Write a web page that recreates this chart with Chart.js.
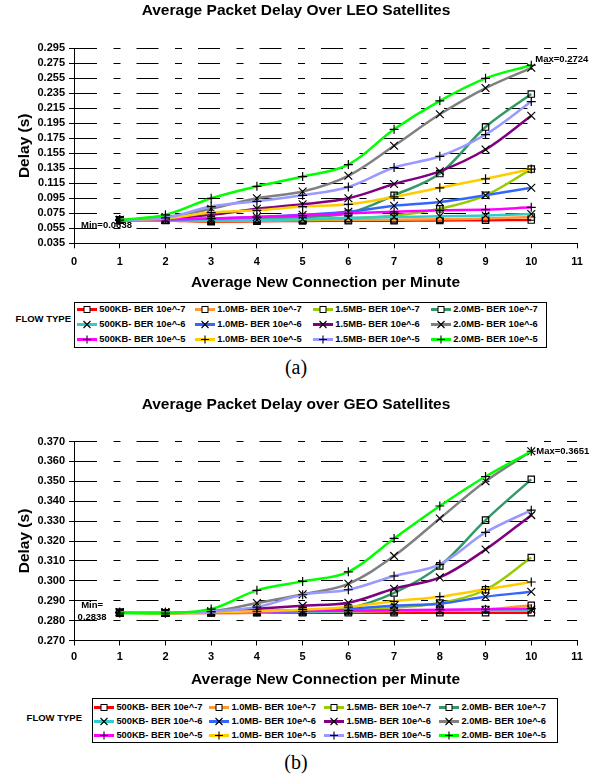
<!DOCTYPE html>
<html>
<head>
<meta charset="utf-8">
<script src="https://cdn.jsdelivr.net/npm/chart.js@4.4.1/dist/chart.umd.min.js"></script>
<style>
  body { margin: 0; background: #fff; }
  #page { position: relative; width: 604px; height: 779px; overflow: hidden; background: #fff;
          font-family: 'Liberation Sans', Arial, sans-serif; color: #000; }
  canvas { position: absolute; left: 0; }
  .legend { position: absolute; border: 1px solid #000; box-sizing: border-box; }
  .legend .item { position: absolute; display: flex; align-items: center; height: 12px;
                  font-weight: bold; font-size: 9.3px; line-height: 12px; white-space: nowrap; }
  .legend svg { margin-right: 2px; }
  .flow { position: absolute; left: 0; text-align: right; font-weight: bold; font-size: 9.5px;
          line-height: 12px; white-space: nowrap; }
  .caption { position: absolute; left: 246px; width: 100px; text-align: center; line-height: 23px;
             font-family: 'Liberation Serif', 'Times New Roman', serif; font-size: 20px; }
</style>
</head>
<body>
<div id="page">
  <canvas id="leoChart" width="604" height="300" style="top:0"></canvas>
  <div class="flow" style="top:313px; width:71px">FLOW TYPE</div>
  <div class="legend" id="leoLegend"></div>
  <div class="caption" style="top:356px">(a)</div>

  <canvas id="geoChart" width="604" height="300" style="top:394px"></canvas>
  <div class="flow" style="top:712px; width:82px">FLOW TYPE</div>
  <div class="legend" id="geoLegend"></div>
  <div class="caption" style="top:751px">(b)</div>
</div>
<script>
// x values and tick labels
const connections = [1, 2, 3, 4, 5, 6, 7, 8, 9, 10];
const xTicks = [0, 1, 2, 3, 4, 5, 6, 7, 8, 9, 10, 11];
const leoYTicks = [0.035, 0.055, 0.075, 0.095, 0.115, 0.135, 0.155, 0.175, 0.195, 0.215, 0.235, 0.255, 0.275, 0.295];
const geoYTicks = [0.270, 0.280, 0.290, 0.300, 0.310, 0.320, 0.330, 0.340, 0.350, 0.360, 0.370];

// flow types (legend order: rows = BER, columns = size)
const flowNames = [
  '500KB- BER 10e^-7', '1.0MB- BER 10e^-7', '1.5MB- BER 10e^-7', '2.0MB- BER 10e^-7',
  '500KB- BER 10e^-6', '1.0MB- BER 10e^-6', '1.5MB- BER 10e^-6', '2.0MB- BER 10e^-6',
  '500KB- BER 10e^-5', '1.0MB- BER 10e^-5', '1.5MB- BER 10e^-5', '2.0MB- BER 10e^-5'
];
const flowColors = [
  '#FF0000', '#FF9933', '#99CC00', '#339966',
  '#33CCCC', '#3366FF', '#800080', '#808080',
  '#FF00FF', '#FFCC00', '#9999FF', '#00FF00'
];
const flowMarkers = [
  'rect', 'rect', 'rect', 'rect',
  'crossRot', 'crossRot', 'crossRot', 'crossRot',
  'cross', 'cross', 'cross', 'cross'
];

// LEO delays (s)
const leo500K7 = [0.0660, 0.0655, 0.0638, 0.0645, 0.0648, 0.0650, 0.0652, 0.0655, 0.0658, 0.0660];
const leo1M7   = [0.0660, 0.0658, 0.0645, 0.0652, 0.0658, 0.0662, 0.0665, 0.0670, 0.0680, 0.0700];
const leo15M7  = [0.0660, 0.0660, 0.0655, 0.0660, 0.0665, 0.0680, 0.0720, 0.0810, 0.0990, 0.1340];
const leo2M7   = [0.0660, 0.0660, 0.0660, 0.0670, 0.0700, 0.0750, 0.0990, 0.1280, 0.1900, 0.2340];
const leo500K6 = [0.0660, 0.0660, 0.0655, 0.0660, 0.0670, 0.0690, 0.0700, 0.0710, 0.0720, 0.0740];
const leo1M6   = [0.0660, 0.0670, 0.0680, 0.0700, 0.0730, 0.0770, 0.0850, 0.0900, 0.0990, 0.1090];
const leo15M6  = [0.0660, 0.0680, 0.0730, 0.0810, 0.0870, 0.0950, 0.1140, 0.1310, 0.1600, 0.2050];
const leo2M6   = [0.0660, 0.0700, 0.0810, 0.0950, 0.1040, 0.1250, 0.1650, 0.2070, 0.2420, 0.2690];
const leo500K5 = [0.0660, 0.0670, 0.0680, 0.0700, 0.0720, 0.0750, 0.0770, 0.0790, 0.0800, 0.0830];
const leo1M5   = [0.0660, 0.0680, 0.0760, 0.0790, 0.0840, 0.0870, 0.0970, 0.1090, 0.1210, 0.1340];
const leo15M5  = [0.0660, 0.0690, 0.0840, 0.0910, 0.0990, 0.1100, 0.1360, 0.1510, 0.1800, 0.2240];
const leo2M5   = [0.0660, 0.0730, 0.0950, 0.1110, 0.1240, 0.1400, 0.1870, 0.2250, 0.2550, 0.2724];

// GEO delays (s)
const geo500K7 = [0.2840, 0.2838, 0.2838, 0.2839, 0.2839, 0.2839, 0.2840, 0.2840, 0.2840, 0.2840];
const geo1M7   = [0.2840, 0.2838, 0.2839, 0.2841, 0.2843, 0.2845, 0.2848, 0.2851, 0.2856, 0.2877];
const geo15M7  = [0.2840, 0.2838, 0.2842, 0.2845, 0.2848, 0.2852, 0.2865, 0.2888, 0.2955, 0.3117];
const geo2M7   = [0.2840, 0.2838, 0.2843, 0.2848, 0.2853, 0.2862, 0.2939, 0.3075, 0.3305, 0.3510];
const geo500K6 = [0.2842, 0.2840, 0.2841, 0.2843, 0.2845, 0.2847, 0.2849, 0.2851, 0.2853, 0.2855];
const geo1M6   = [0.2842, 0.2840, 0.2842, 0.2845, 0.2850, 0.2860, 0.2875, 0.2885, 0.2920, 0.2945];
const geo15M6  = [0.2842, 0.2842, 0.2845, 0.2860, 0.2875, 0.2890, 0.2960, 0.3017, 0.3157, 0.3330];
const geo2M6   = [0.2840, 0.2840, 0.2847, 0.2888, 0.2932, 0.2985, 0.3125, 0.3313, 0.3500, 0.3651];
const geo500K5 = [0.2842, 0.2842, 0.2843, 0.2845, 0.2848, 0.2850, 0.2852, 0.2855, 0.2857, 0.2860];
const geo1M5   = [0.2840, 0.2838, 0.2842, 0.2847, 0.2855, 0.2868, 0.2897, 0.2920, 0.2957, 0.2994];
const geo15M5  = [0.2842, 0.2842, 0.2845, 0.2868, 0.2930, 0.2955, 0.3024, 0.3083, 0.3243, 0.3355];
const geo2M5   = [0.2838, 0.2838, 0.2858, 0.2952, 0.2997, 0.3045, 0.3213, 0.3376, 0.3524, 0.3651];

const leoSeries = [leo500K7, leo1M7, leo15M7, leo2M7, leo500K6, leo1M6, leo15M6, leo2M6, leo500K5, leo1M5, leo15M5, leo2M5];
const geoSeries = [geo500K7, geo1M7, geo15M7, geo2M7, geo500K6, geo1M6, geo15M6, geo2M6, geo500K5, geo1M5, geo15M5, geo2M5];

const FONT = "'Liberation Sans', Arial, sans-serif";
const tickFont = { family: FONT, size: 11, weight: 'bold' };
const axisTitleFont = { family: FONT, size: 15.5, weight: 'bold' };
const markerRadius = { rect: 4.5, crossRot: 5.5, cross: 4.5 };

Chart.defaults.color = '#000';

// Max= / Min= notes, placed from the data through the scales
const minMaxLabels = {
  id: 'minMaxLabels',
  afterDatasetsDraw(chart, args, opts) {
    const { ctx, scales: { x, y } } = chart;
    const vals = chart.data.datasets.flatMap(d => d.data.map(p => p.y));
    const maxV = Math.max(...vals), minV = Math.min(...vals);
    const last = connections[connections.length - 1];
    ctx.save();
    ctx.font = 'bold 9.5px ' + FONT;
    ctx.fillStyle = '#000';
    ctx.textBaseline = 'middle';
    ctx.textAlign = 'left';
    ctx.fillText('Max=' + maxV.toFixed(4), x.getPixelForValue(last) + opts.maxDx, y.getPixelForValue(maxV) + opts.maxDy);
    if (opts.minSplit) {
      ctx.textAlign = 'center';
      const cx = x.getPixelForValue(connections[0]) + opts.minDx;
      const cy = y.getPixelForValue(minV);
      ctx.fillText('Min=', cx, cy - 7.4);
      ctx.fillText(minV.toFixed(4), cx, cy + 4.3);
    } else {
      ctx.fillText('Min=' + minV.toFixed(4), x.left + opts.minDx, y.getPixelForValue(minV) + opts.minDy);
    }
    ctx.restore();
  }
};

function buildDatasets(series) {
  return series.map((vals, i) => ({
    label: flowNames[i],
    data: vals.map((v, k) => ({ x: connections[k], y: v })),
    borderColor: flowColors[i],
    backgroundColor: flowColors[i],
    borderWidth: 2.5,
    tension: 0.35,
    pointStyle: flowMarkers[i],
    pointRadius: markerRadius[flowMarkers[i]],
    pointBorderColor: '#000',
    pointBorderWidth: 1.2,
    pointBackgroundColor: 'rgba(0,0,0,0)',
    order: series.length - i
  }));
}

function makeChart(id, p) {
  return new Chart(document.getElementById(id), {
    type: 'line',
    data: { datasets: buildDatasets(p.series) },
    options: {
      responsive: false,
      animation: false,
      devicePixelRatio: 1,
      layout: { padding: { left: 15, right: 27, top: 0, bottom: 0 } },
      scales: {
        x: {
          type: 'linear',
          min: xTicks[0],
          max: xTicks[xTicks.length - 1],
          afterBuildTicks: s => { s.ticks = xTicks.map(v => ({ value: v })); },
          afterFit: s => { s.height = p.xAxisHeight; },
          grid: { drawOnChartArea: false, tickLength: 5, color: '#000' },
          border: { color: '#000', width: 1 },
          ticks: { font: tickFont, color: '#000', padding: p.xTickPad, maxRotation: 0, autoSkip: false },
          title: { display: true, text: 'Average New Connection per Minute', font: axisTitleFont, color: '#000',
                   padding: { top: 0, bottom: p.xTitlePad } }
        },
        y: {
          min: p.yTicks[0],
          max: p.yTicks[p.yTicks.length - 1],
          afterBuildTicks: s => { s.ticks = p.yTicks.map(v => ({ value: v })); },
          afterFit: s => { s.width = 59; },
          grid: { color: '#000', lineWidth: 1, tickLength: 5, tickBorderDash: [6, 0] },
          border: { display: true, color: '#000', width: 1, dash: [22, 16.5, 7, 16] },
          ticks: { font: tickFont, color: '#000', padding: 4, autoSkip: false, callback: v => v.toFixed(3) },
          title: { display: true, text: 'Delay (s)', font: axisTitleFont, color: '#000', padding: { top: 0, bottom: 0 } }
        }
      },
      plugins: {
        legend: { display: false },
        tooltip: { enabled: false },
        title: {
          display: true,
          text: p.title,
          color: '#000',
          font: { family: FONT, size: 15.5, weight: 'bold' },
          padding: { top: p.titleTop, bottom: p.titleBottom }
        },
        minMaxLabels: p.notes
      }
    },
    plugins: [minMaxLabels]
  });
}

function markerSvg(color, style) {
  let m;
  if (style === 'rect') {
    m = '<rect x="7" y="2.5" width="6" height="6" fill="#fff" stroke="#000" stroke-width="1"/>';
  } else if (style === 'crossRot') {
    m = '<path d="M6.5 2 L13.5 9 M13.5 2 L6.5 9" stroke="#000" stroke-width="1.1" fill="none"/>';
  } else {
    m = '<path d="M10 1.5 V9.5 M6 5.5 H14" stroke="#000" stroke-width="1.1" fill="none"/>';
  }
  return '<svg width="20" height="11"><line x1="0" y1="5.5" x2="20" y2="5.5" stroke="' + color +
         '" stroke-width="3"/>' + m + '</svg>';
}

function buildLegend(boxId, g) {
  const box = document.getElementById(boxId);
  Object.assign(box.style, { left: g.left + 'px', top: g.top + 'px', width: g.width + 'px', height: g.height + 'px' });
  flowNames.forEach((name, i) => {
    const row = Math.floor(i / 4), col = i % 4;
    const item = document.createElement('div');
    item.className = 'item';
    item.style.left = (g.colX + col * g.colStep) + 'px';
    item.style.top = (g.rowY + row * g.rowStep - 6) + 'px';
    item.innerHTML = markerSvg(flowColors[i], flowMarkers[i]) + '<span>' + name + '</span>';
    box.appendChild(item);
  });
}

makeChart('leoChart', {
  series: leoSeries,
  yTicks: leoYTicks,
  title: 'Average Packet Delay Over LEO Satellites',
  titleTop: 1, titleBottom: 28.7,
  xAxisHeight: 56.7, xTickPad: 7, xTitlePad: 7.7,
  notes: { maxDx: 4, maxDy: -6, minSplit: false, minDx: 7, minDy: 3.3 }
});

makeChart('geoChart', {
  series: geoSeries,
  yTicks: geoYTicks,
  title: 'Average Packet Delay over GEO Satellites',
  titleTop: 1.7, titleBottom: 27.2,
  xAxisHeight: 53.5, xTickPad: 4.6, xTitlePad: 4.7,
  notes: { maxDx: 5, maxDy: 0, minSplit: true, minDx: -27.6, minDy: 0 }
});

buildLegend('leoLegend', { left: 74, top: 302, width: 473, height: 46, colX: 2.3, colStep: 118, rowY: 6.3, rowStep: 14.9 });
buildLegend('geoLegend', { left: 92, top: 698, width: 466, height: 45, colX: 1.4, colStep: 115, rowY: 8, rowStep: 14 });
</script>
</body>
</html>
